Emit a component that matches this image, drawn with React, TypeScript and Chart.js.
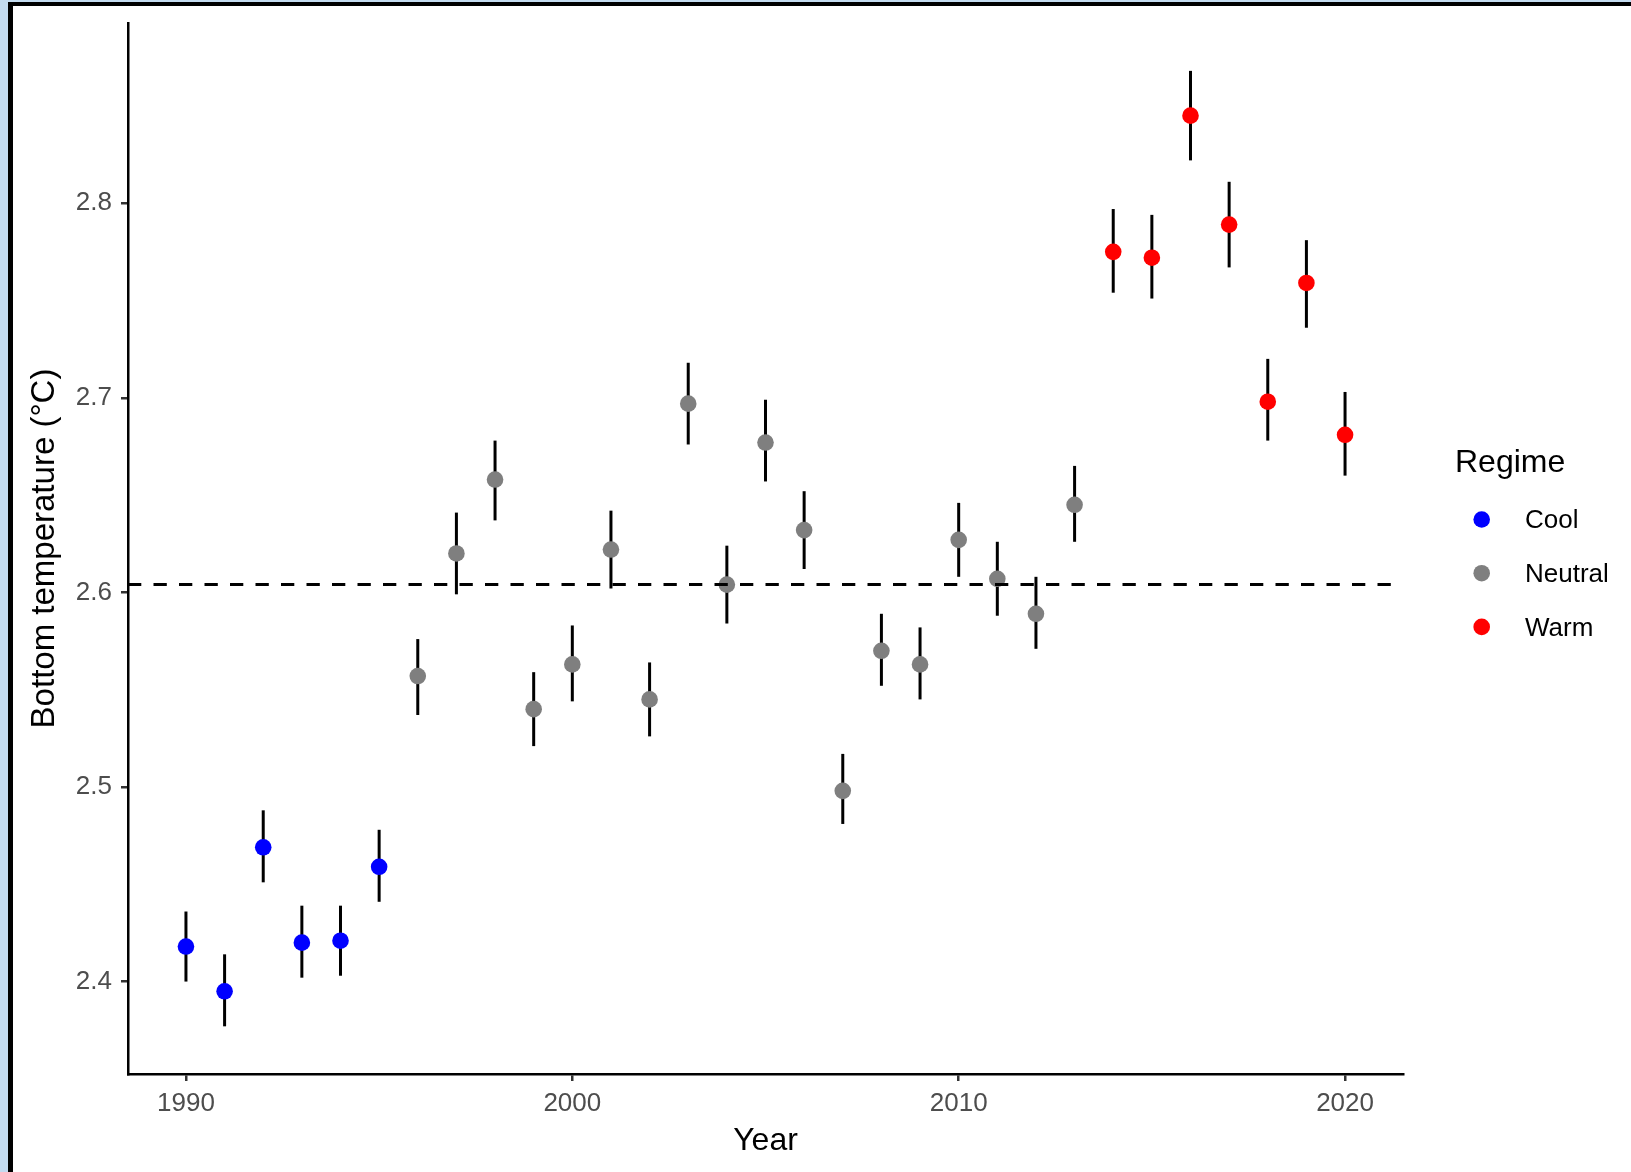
import React, { useEffect, useRef } from "react";
import { Chart, registerables } from "chart.js";

Chart.register(...registerables);

// ---- Data ----
const years = [
  1990, 1991, 1992, 1993, 1994, 1995, 1996, 1997, 1998, 1999, 2000,
  2001, 2002, 2003, 2004, 2005, 2006, 2007, 2008, 2009, 2010,
  2011, 2012, 2013, 2014, 2015, 2016, 2017, 2018, 2019, 2020,
];
const meanTemp = [
  2.418, 2.395, 2.469, 2.42, 2.421, 2.459, 2.557, 2.62, 2.658, 2.54, 2.563,
  2.622, 2.545, 2.697, 2.604, 2.677, 2.632, 2.498, 2.57, 2.563, 2.627,
  2.607, 2.589, 2.645, 2.775, 2.772, 2.845, 2.789, 2.698, 2.759, 2.681,
];
const lowerCI = [
  2.4, 2.377, 2.451, 2.402, 2.403, 2.441, 2.537, 2.599, 2.637, 2.521, 2.544,
  2.602, 2.526, 2.676, 2.584, 2.657, 2.612, 2.481, 2.552, 2.545, 2.608,
  2.588, 2.571, 2.626, 2.754, 2.751, 2.822, 2.767, 2.678, 2.736, 2.66,
];
const upperCI = [
  2.436, 2.414, 2.488, 2.439, 2.439, 2.478, 2.576, 2.641, 2.678, 2.559, 2.583,
  2.642, 2.564, 2.718, 2.624, 2.699, 2.652, 2.517, 2.589, 2.582, 2.646,
  2.626, 2.608, 2.665, 2.797, 2.794, 2.868, 2.811, 2.72, 2.781, 2.703,
];
const regime = [
  "Cool", "Cool", "Cool", "Cool", "Cool", "Cool",
  "Neutral", "Neutral", "Neutral", "Neutral", "Neutral", "Neutral", "Neutral",
  "Neutral", "Neutral", "Neutral", "Neutral", "Neutral", "Neutral", "Neutral",
  "Neutral", "Neutral", "Neutral", "Neutral",
  "Warm", "Warm", "Warm", "Warm", "Warm", "Warm", "Warm",
];
const regimeNames = ["Cool", "Neutral", "Warm"];
const regimeColors = ["#0000FF", "#7F7F7F", "#FF0000"];
const referenceLine = 2.604;
const xTickValues = [1990, 2000, 2010, 2020];
const yTickValues = [2.4, 2.5, 2.6, 2.7, 2.8];
const xRange = [1988.5, 2021.5];
const yRange = [2.3525, 2.8926];
const xTitle = "Year";
const yTitle = "Bottom temperature (°C)";
const legendTitle = "Regime";

const FONT = "'Liberation Sans', Arial, Helvetica, sans-serif";

const errorBarPlugin = {
  id: "errorBars",
  beforeDatasetsDraw(chart: any) {
    const { ctx, scales } = chart;
    const xs = scales.x;
    const ys = scales.y;
    ctx.save();
    ctx.strokeStyle = "#000000";
    ctx.lineWidth = 3;
    ctx.lineCap = "butt";
    years.forEach((yr, i) => {
      const px = xs.getPixelForValue(yr);
      ctx.beginPath();
      ctx.moveTo(px, ys.getPixelForValue(lowerCI[i]));
      ctx.lineTo(px, ys.getPixelForValue(upperCI[i]));
      ctx.stroke();
    });
    ctx.restore();
  },
};

const legendPlugin = {
  id: "regimeLegend",
  afterDraw(chart: any) {
    const { ctx } = chart;
    ctx.save();
    ctx.fillStyle = "#000000";
    ctx.font = `32px ${FONT}`;
    ctx.textAlign = "left";
    ctx.textBaseline = "alphabetic";
    ctx.fillText(legendTitle, 1455, 472);
    ctx.font = `26px ${FONT}`;
    ctx.textBaseline = "middle";
    regimeNames.forEach((name, i) => {
      const cy = 519.5 + i * 53.7;
      ctx.beginPath();
      ctx.arc(1481.7, cy, 8.3, 0, Math.PI * 2);
      ctx.fillStyle = regimeColors[i];
      ctx.fill();
      ctx.fillStyle = "#000000";
      ctx.fillText(name, 1525, cy + 1.5);
    });
    ctx.restore();
  },
};

export default function App() {
  const canvasRef = useRef<HTMLCanvasElement | null>(null);

  useEffect(() => {
    const canvas = canvasRef.current;
    if (!canvas) return;

    const pointSets = regimeNames.map((name, r) => ({
      type: "scatter" as const,
      label: name,
      data: years
        .map((yr, i) => ({ x: yr, y: meanTemp[i], reg: regime[i] }))
        .filter((p) => p.reg === name)
        .map((p) => ({ x: p.x, y: p.y })),
      backgroundColor: regimeColors[r],
      borderWidth: 0,
      pointRadius: 8.3,
      pointHoverRadius: 8.3,
      order: 1,
    }));

    const chart = new Chart(canvas, {
      type: "scatter",
      data: {
        datasets: [
          {
            type: "line" as const,
            label: "mean",
            data: [
              { x: xRange[0], y: referenceLine },
              { x: xRange[1], y: referenceLine },
            ],
            borderColor: "#000000",
            borderWidth: 3,
            borderDash: [13.3, 12.2],
            pointRadius: 0,
            showLine: true,
            fill: false,
            order: 0,
          } as any,
          ...pointSets,
        ],
      },
      options: {
        animation: false,
        responsive: false,
        maintainAspectRatio: false,
        events: [],
        layout: { padding: { left: 0, top: 23, right: 228, bottom: 0 } },
        plugins: {
          legend: { display: false },
          tooltip: { enabled: false },
          title: { display: false },
        },
        scales: {
          x: {
            type: "linear",
            position: "bottom",
            min: xRange[0],
            max: xRange[1],
            afterBuildTicks(s: any) {
              s.ticks = xTickValues.map((v) => ({ value: v }));
            },
            afterFit(s: any) {
              s.height = 98;
              s.paddingLeft = 0;
              s.paddingRight = 0;
            },
            grid: {
              display: true,
              drawOnChartArea: false,
              drawTicks: true,
              tickLength: 7,
              color: "#333333",
              lineWidth: 2.5,
            },
            border: { display: true, color: "#000000", width: 2.5 },
            ticks: {
              autoSkip: false,
              maxRotation: 0,
              minRotation: 0,
              padding: 7,
              color: "#4D4D4D",
              font: { family: FONT, size: 26 },
              callback: (v: any) => String(v),
            },
            title: {
              display: true,
              text: xTitle,
              color: "#000000",
              font: { family: FONT, size: 32 },
              padding: { top: 0, bottom: 12 },
            },
          },
          y: {
            type: "linear",
            position: "left",
            min: yRange[0],
            max: yRange[1],
            afterBuildTicks(s: any) {
              s.ticks = yTickValues.map((v) => ({ value: v }));
            },
            afterFit(s: any) {
              s.width = 128;
              s.paddingTop = 0;
              s.paddingBottom = 0;
            },
            grid: {
              display: true,
              drawOnChartArea: false,
              drawTicks: true,
              tickLength: 7,
              color: "#333333",
              lineWidth: 2.5,
            },
            border: { display: true, color: "#000000", width: 2.5 },
            ticks: {
              padding: 9,
              color: "#4D4D4D",
              font: { family: FONT, size: 26 },
              callback: (v: any) => Number(v).toFixed(1),
            },
            title: {
              display: true,
              text: yTitle,
              color: "#000000",
              font: { family: FONT, size: 33 },
              padding: { top: 25, bottom: 0 },
            },
          },
        },
      } as any,
      plugins: [errorBarPlugin, legendPlugin],
    });

    return () => chart.destroy();
  }, []);

  return (
    <div
      style={{
        position: "fixed",
        left: 0,
        top: 0,
        width: 1631,
        height: 1172,
        background: "#C3DBF0",
        overflow: "hidden",
      }}
    >
      <div
        style={{
          position: "absolute",
          left: 8,
          top: 2,
          right: 0,
          bottom: 0,
          background: "#FFFFFF",
          borderLeft: "5px solid #000000",
          borderTop: "4px solid #000000",
        }}
      />
      <canvas
        ref={canvasRef}
        width={1631}
        height={1172}
        style={{ position: "absolute", left: 0, top: 0, width: 1631, height: 1172 }}
      />
    </div>
  );
}
